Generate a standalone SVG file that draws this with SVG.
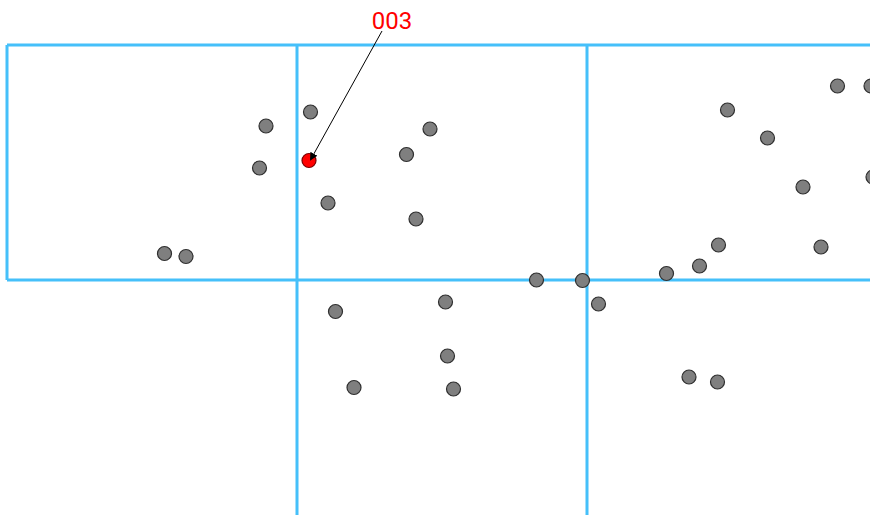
<svg xmlns="http://www.w3.org/2000/svg" width="870" height="515" viewBox="0 0 870 515">
<style>
.grid{stroke:#45c0fa;stroke-width:3;fill:none}
.pt{fill:#7f7f7f;stroke:#2f2f2f;stroke-width:1.2}
.sel{fill:#ff0000;stroke:#7a0000;stroke-width:1.2}
.lbl{font-family:Roboto,"Liberation Sans",sans-serif;font-size:24px;fill:#ff0000;text-anchor:middle}
</style>
<defs>
<marker id="ah" markerWidth="8" markerHeight="8" refX="6" refY="4" orient="auto" markerUnits="userSpaceOnUse">
<path d="M0,0 L8,4 L0,8 z" fill="#000"/>
</marker>
</defs>
<rect width="870" height="515" fill="#fff"/>
<g id="grid">
<path class="grid" d="M7,45 H870 M7,280 H870 M7,45 V280 M297,45 V515 M587,45 V515"/>
</g>
<g id="points">
<circle class="pt" cx="266" cy="126" r="7"/>
<circle class="pt" cx="310.5" cy="112" r="7"/>
<circle class="pt" cx="259.5" cy="168" r="7"/>
<circle class="pt" cx="328" cy="203" r="7"/>
<circle class="pt" cx="164.5" cy="253.5" r="7"/>
<circle class="pt" cx="186" cy="256.5" r="7"/>
<circle class="pt" cx="430" cy="129" r="7"/>
<circle class="pt" cx="406.5" cy="154.5" r="7"/>
<circle class="pt" cx="416" cy="219" r="7"/>
<circle class="pt" cx="536.5" cy="280" r="7"/>
<circle class="pt" cx="582.5" cy="280.5" r="7"/>
<circle class="pt" cx="598.5" cy="304" r="7"/>
<circle class="pt" cx="727.5" cy="110" r="7"/>
<circle class="pt" cx="767.5" cy="138" r="7"/>
<circle class="pt" cx="837.5" cy="86" r="7"/>
<circle class="pt" cx="871" cy="86" r="7"/>
<circle class="pt" cx="803" cy="187" r="7"/>
<circle class="pt" cx="873" cy="177" r="7"/>
<circle class="pt" cx="718.5" cy="245" r="7"/>
<circle class="pt" cx="821" cy="247" r="7"/>
<circle class="pt" cx="699.5" cy="266" r="7"/>
<circle class="pt" cx="666.5" cy="273.5" r="7"/>
<circle class="pt" cx="335.5" cy="311.5" r="7"/>
<circle class="pt" cx="445.5" cy="302" r="7"/>
<circle class="pt" cx="447.5" cy="356" r="7"/>
<circle class="pt" cx="354" cy="387.5" r="7"/>
<circle class="pt" cx="453.5" cy="389" r="7"/>
<circle class="pt" cx="689" cy="377" r="7"/>
<circle class="pt" cx="717.5" cy="382" r="7"/>
</g>
<g id="p003">
<circle class="sel" cx="309" cy="160.5" r="7"/>
<text class="lbl" x="392" y="29">003</text>
</g>
<g id="connectors">
<line x1="382" y1="31" x2="311" y2="159" stroke="#000" stroke-width="1" marker-end="url(#ah)"/>
</g>
</svg>
